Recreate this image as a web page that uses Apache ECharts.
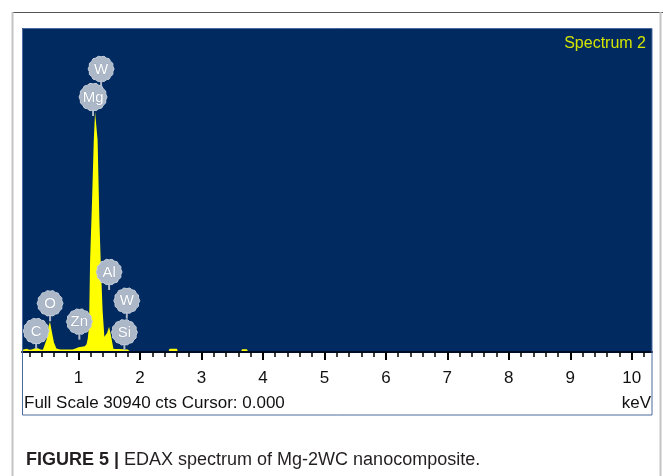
<!DOCTYPE html>
<html>
<head>
<meta charset="utf-8">
<script src="https://cdn.jsdelivr.net/npm/echarts@6/dist/echarts.min.js"></script>
<style>
  html, body { margin: 0; padding: 0; background: #fff; }
  #chart { width: 663px; height: 476px; }
</style>
</head>
<body>
<div id="chart"></div>
<script>
// spectrum: energy (keV) and counts
const energyKeV = [0.08, 0.12, 0.16, 0.20, 0.24, 0.27, 0.30, 0.34, 0.38, 0.42, 0.45, 0.48, 0.51, 0.535, 0.56, 0.60, 0.64,
  0.70, 0.80, 0.90, 0.95, 1.00, 1.05, 1.10, 1.13, 1.150, 1.171, 1.188, 1.220, 1.248, 1.269, 1.293, 1.310, 1.339, 1.360,
  1.391, 1.420, 1.440, 1.464, 1.497, 1.529, 1.567, 1.60, 1.65, 1.75, 1.80, 1.85, 2.40, 2.46, 2.48, 2.60, 2.62,
  3.64, 3.66, 3.74, 3.76];
const counts = [220, 260, 300, 220, 250, 220, 380, 360, 230, 220, 260, 1200, 2400, 2900, 2100, 900, 330,
  250, 230, 250, 330, 450, 500, 550, 750, 1300, 2500, 8790, 14500, 20250, 22920, 22920, 20250, 12600, 8790,
  4010, 1460, 1340, 1810, 2420, 1530, 300, 280, 280, 270, 240, 0, 0, 0, 300, 300, 0,
  0, 260, 260, 0];

// element markers: name, energy (keV), badge height (counts)
const peakNames = ["W", "Mg", "Al", "O", "W", "C", "Zn", "Si"];
const peakKeV = [1.367, 1.236, 1.497, 0.537, 1.785, 0.310, 1.013, 1.746];
const peakCounts = [27030, 24350, 7640, 4650, 4900, 2000, 2900, 1880];

const majorTicks = [1, 2, 3, 4, 5, 6, 7, 8, 9, 10];
const minorTicks = [0.2, 0.4, 0.6, 0.8, 1.2, 1.4, 1.6, 1.8, 2.2, 2.4, 2.6, 2.8, 3.2, 3.4, 3.6, 3.8,
  4.2, 4.4, 4.6, 4.8, 5.2, 5.4, 5.6, 5.8, 6.2, 6.4, 6.6, 6.8, 7.2, 7.4, 7.6, 7.8,
  8.2, 8.4, 8.6, 8.8, 9.2, 9.4, 9.6, 9.8, 10.2];

const FULL_SCALE = 30940;
const X_MIN = 0.08;
const X_MAX = 10.33;

const NAVY = "#002a60";
const BADGE = "#acb8c8";
const FONT = "'Liberation Sans', Arial, sans-serif";

const chart = echarts.init(document.getElementById("chart"));

function badgePath(cx, cy, r) {
  const pts = [];
  const lobes = 14;
  for (let i = 0; i < lobes * 2; i++) {
    const a = (Math.PI * i) / lobes;
    const rr = i % 2 ? r - 0.9 : r;
    pts.push([cx + rr * Math.cos(a), cy + rr * Math.sin(a)]);
  }
  return pts;
}

chart.setOption({
  animation: false,
  grid: {
    left: 22, right: 11, top: 28, bottom: 124,
    show: true, backgroundColor: NAVY, borderWidth: 0,
  },
  xAxis: [
    {
      type: "value", min: X_MIN, max: X_MAX, position: "bottom", z: 3,
      axisLine: { show: true, onZero: false, lineStyle: { color: "#000c26", width: 2 } },
      axisTick: { show: true, customValues: majorTicks, length: 8, lineStyle: { color: "#000", width: 2 } },
      axisLabel: {
        customValues: majorTicks, color: "#111", fontSize: 17, margin: 18,
        fontFamily: FONT,
      },
      splitLine: { show: false },
    },
    {
      type: "value", min: X_MIN, max: X_MAX, position: "bottom", z: 3,
      axisLine: { show: false },
      axisTick: { show: true, customValues: minorTicks, length: 5, lineStyle: { color: "#000", width: 1.5 } },
      axisLabel: { show: false },
      splitLine: { show: false },
    },
  ],
  yAxis: { type: "value", min: 0, max: FULL_SCALE, show: false },
  series: [
    {
      type: "line",
      xAxisIndex: 0,
      data: energyKeV.map((e, i) => [e, counts[i]]),
      symbol: "none",
      smooth: false,
      lineStyle: { color: "#ffff00", width: 0, opacity: 0 },
      areaStyle: { color: "#ffff00", opacity: 1 },
      z: 2,
    },
    {
      type: "custom",
      xAxisIndex: 0,
      data: peakNames.map((n, i) => [peakKeV[i], peakCounts[i]]),
      z: 5,
      renderItem: (params, api) => {
        const p = api.coord([api.value(0), api.value(1)]);
        const r = params.dataIndex === 1 ? 14 : 13;
        return {
          type: "group",
          children: [
            {
              type: "line",
              shape: { x1: p[0], y1: p[1] + r - 2, x2: p[0], y2: p[1] + r + 5 },
              style: { stroke: BADGE, lineWidth: 2 },
            },
            {
              type: "polygon",
              shape: { points: badgePath(p[0], p[1], r) },
              style: { fill: BADGE, stroke: "#c6cfdb", lineWidth: 1 },
            },
            {
              type: "text",
              style: {
                text: peakNames[params.dataIndex], x: p[0], y: p[1] + 0.5,
                align: "center", verticalAlign: "middle", fill: "#fff",
                font: "15px " + FONT,
                stroke: "#8f9db0", lineWidth: 0.6,
              },
            },
          ],
        };
      },
    },
  ],
  graphic: [
    // outer figure frame
    { type: "line", shape: { x1: 13, y1: 12.5, x2: 663, y2: 12.5 }, style: { stroke: "#555", lineWidth: 1 }, silent: true },
    { type: "line", shape: { x1: 12.5, y1: 12, x2: 12.5, y2: 476 }, style: { stroke: "#c4c4c4", lineWidth: 2 }, silent: true },
    { type: "line", shape: { x1: 660.5, y1: 12, x2: 660.5, y2: 476 }, style: { stroke: "#c4c4c4", lineWidth: 2 }, silent: true },
    // spectrum panel border
    {
      type: "rect", shape: { x: 22.5, y: 28.5, width: 629.5, height: 386.5 },
      style: { fill: null, stroke: "#4a6aa0", lineWidth: 1 }, silent: true, z: 10,
    },
    {
      type: "text", right: 17, top: 36,
      style: { text: "Spectrum 2", fill: "#d4e400", font: "16px " + FONT },
      z: 10,
    },
    {
      type: "text", left: 24, top: 395,
      style: { text: "Full Scale 30940 cts Cursor: 0.000", fill: "#111", font: "17px " + FONT },
    },
    {
      type: "text", right: 12, top: 395,
      style: { text: "keV", fill: "#111", font: "17px " + FONT },
    },
    {
      type: "text", left: 26, top: 451,
      style: {
        rich: {
          b: { fontWeight: "bold", fontSize: 18, fill: "#231f20", fontFamily: FONT },
          n: { fontSize: 18, fill: "#231f20", fontFamily: FONT },
        },
        text: "{b|FIGURE 5 |}{n| EDAX spectrum of Mg-2WC nanocomposite.}",
      },
    },
  ],
});
</script>
</body>
</html>
